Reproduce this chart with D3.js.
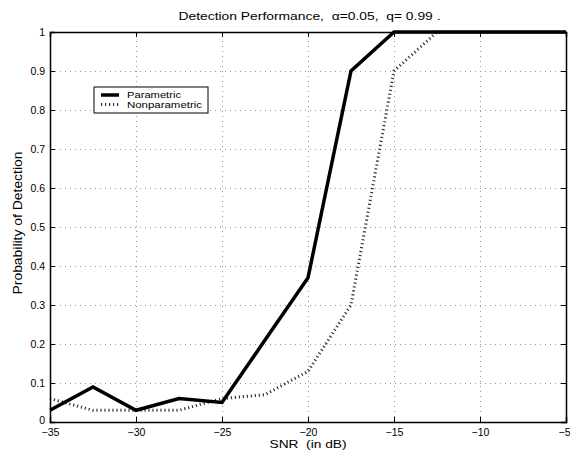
<!DOCTYPE html>
<html>
<head>
<meta charset="utf-8">
<script src="https://cdn.jsdelivr.net/npm/d3@7"></script>
<style>
  body { margin: 0; background: #fff; }
  svg { display: block; font-family: "Liberation Sans", Arial, sans-serif; }
</style>
</head>
<body>
<div id="chart"></div>
<script>
var snr = [-35, -32.5, -30, -27.5, -25, -22.5, -20, -17.5, -15, -12.5, -10, -7.5, -5];
var parametric = [0.03, 0.09, 0.03, 0.06, 0.05, 0.21, 0.37, 0.90, 1, 1, 1, 1, 1];
var nonparametric = [0.06, 0.03, 0.03, 0.03, 0.06, 0.07, 0.13, 0.30, 0.90, 1, 1, 1, 1];
var xTicks = [-35, -30, -25, -20, -15, -10, -5];
var yTicks = [0, 0.1, 0.2, 0.3, 0.4, 0.5, 0.6, 0.7, 0.8, 0.9, 1];
var seriesNames = ['Parametric', 'Nonparametric'];

var chartWidth = 570;
var chartHeight = 452;
var margin = {top: 32, right: 4, bottom: 30, left: 50};
var w = chartWidth - margin.left - margin.right;
var h = chartHeight - margin.top - margin.bottom;

var svg = d3.select('#chart')
    .append('svg')
    .attr('width', chartWidth)
    .attr('height', chartHeight);

var g = svg.append('g')
    .attr('transform', 'translate(' + margin.left + ',' + margin.top + ')');

var scaleX = d3.scaleLinear().domain([-35, -5]).range([0, w]);
var scaleY = d3.scaleLinear().domain([0, 1]).range([h, 0]);

var fmtX = d3.format('d');
var fmtY = function(d) { return d3.format('~g')(d); };

// grid
g.append('g')
    .attr('class', 'grid')
    .attr('transform', 'translate(0,' + h + ')')
    .call(d3.axisBottom(scaleX).tickValues(xTicks).tickSize(-h).tickFormat(''));
g.append('g')
    .attr('class', 'grid')
    .call(d3.axisLeft(scaleY).tickValues(yTicks).tickSize(-w).tickFormat(''));
g.selectAll('.grid .domain').remove();
g.selectAll('.grid line')
    .attr('stroke', '#999')
    .attr('stroke-width', 1)
    .attr('stroke-dasharray', '1,4');

// lines
var line = d3.line()
    .x(function(d) { return scaleX(d[0]); })
    .y(function(d) { return scaleY(d[1]); });

var paraPts = snr.map(function(s, i) { return [s, parametric[i]]; });
var nonPts = snr.map(function(s, i) { return [s, nonparametric[i]]; });

g.append('path')
    .datum(nonPts)
    .attr('d', line)
    .attr('fill', 'none')
    .attr('stroke', '#333')
    .attr('stroke-width', 3)
    .attr('stroke-dasharray', '1.2,2.8');

g.append('path')
    .datum(paraPts)
    .attr('d', line)
    .attr('fill', 'none')
    .attr('stroke', '#000')
    .attr('stroke-width', 3.5)
    .attr('stroke-linejoin', 'miter');

// axes
var xAxis = g.append('g')
    .attr('transform', 'translate(0,' + h + ')')
    .call(d3.axisBottom(scaleX).tickValues(xTicks).tickSize(-5).tickPadding(7).tickFormat(fmtX));
var xTop = g.append('g')
    .call(d3.axisTop(scaleX).tickValues(xTicks).tickSize(-5).tickFormat(''));
var yAxis = g.append('g')
    .call(d3.axisLeft(scaleY).tickValues(yTicks).tickSize(-5).tickPadding(5).tickFormat(fmtY));
var yRight = g.append('g')
    .attr('transform', 'translate(' + w + ',0)')
    .call(d3.axisRight(scaleY).tickValues(yTicks).tickSize(-5).tickFormat(''));

g.selectAll('.domain').attr('stroke', '#000').attr('stroke-width', 1.5);
[xAxis, xTop, yAxis, yRight].forEach(function(a) {
  a.selectAll('.tick line').attr('stroke', '#000');
  a.selectAll('text')
      .attr('fill', '#000')
      .style('font-size', '10.5px')
      .style('font-family', '"Liberation Sans", Arial, sans-serif');
});
// keep the last x label inside the page
xAxis.selectAll('.tick text')
    .filter(function(d) { return d === -5; })
    .attr('dx', -2);
// lift the 0 label a little, as in the reference
yAxis.selectAll('.tick text')
    .filter(function(d) { return d === 0; })
    .attr('dy', '0.1em');

// title and labels
svg.append('text')
    .attr('x', 309.5)
    .attr('y', 19.5)
    .attr('text-anchor', 'middle')
    .attr('textLength', 262)
    .attr('lengthAdjust', 'spacingAndGlyphs')
    .style('font-size', '11.5px')
    .style('white-space', 'pre')
    .text('Detection Performance,  \u03b1=0.05,  q= 0.99 .');

svg.append('text')
    .attr('x', margin.left + w / 2)
    .attr('y', 447.5)
    .attr('text-anchor', 'middle')
    .attr('textLength', 77)
    .attr('lengthAdjust', 'spacingAndGlyphs')
    .style('font-size', '11.5px')
    .style('white-space', 'pre')
    .text('SNR  (in dB)');

svg.append('text')
    .attr('transform', 'translate(22,223) rotate(-90)')
    .attr('text-anchor', 'middle')
    .attr('textLength', 143)
    .attr('lengthAdjust', 'spacingAndGlyphs')
    .style('font-size', '12px')
    .text('Probability of Detection');

// legend
var legend = svg.append('g').attr('transform', 'translate(94,87)');
legend.append('rect')
    .attr('width', 114)
    .attr('height', 26)
    .attr('fill', '#fff')
    .attr('stroke', '#000')
    .attr('stroke-width', 1);
seriesNames.forEach(function(name, i) {
  var yy = 8 + i * 9.5;
  legend.append('line')
      .attr('x1', 7).attr('x2', 25)
      .attr('y1', yy).attr('y2', yy)
      .attr('stroke', i === 0 ? '#000' : '#333')
      .attr('stroke-width', i === 0 ? 3.5 : 3)
      .attr('stroke-dasharray', i === 0 ? null : '1.2,2.8');
  legend.append('text')
      .attr('x', 33)
      .attr('y', yy + 3.3)
      .attr('textLength', i === 0 ? 54 : 75)
      .attr('lengthAdjust', 'spacingAndGlyphs')
      .style('font-size', '9.5px')
      .text(name);
});
</script>
</body>
</html>
